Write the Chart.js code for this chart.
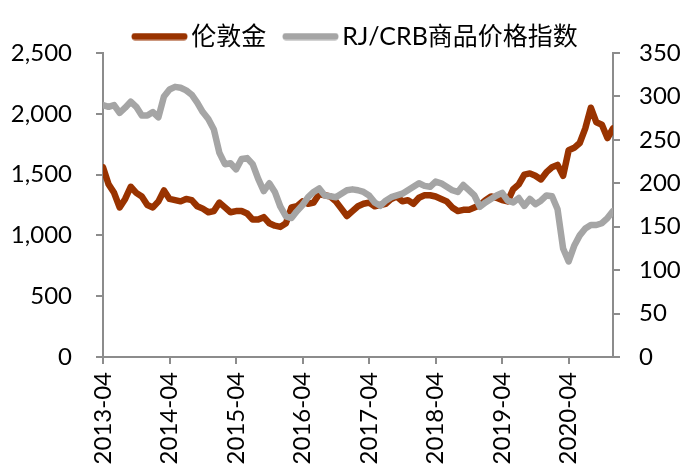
<!DOCTYPE html>
<html>
<head>
<meta charset="utf-8">
<script src="https://cdn.jsdelivr.net/npm/chart.js@4/dist/chart.umd.min.js"></script>
<style>
  html, body { margin: 0; padding: 0; background: #ffffff; }
  #wrap { width: 697px; height: 469px; }
</style>
</head>
<body>
<div id="wrap"><canvas id="c" width="697" height="469"></canvas></div>
<script>
// Monthly categories from 2013-04 to 2020-12
const startYear = 2013, startMonth = 4, monthCount = 93;
const months = [];
for (let i = 0; i < monthCount; i++) {
  const m = startMonth - 1 + i;
  const y = startYear + Math.floor(m / 12);
  const mm = (m % 12) + 1;
  months.push(y + '-' + String(mm).padStart(2, '0'));
}
const tickLabels = ['2013-04','2014-04','2015-04','2016-04','2017-04','2018-04','2019-04','2020-04'];

const seriesNames = ['伦敦金', 'RJ/CRB商品价格指数'];

// London gold (left axis)
const goldValues = [
  1560,1420,1350,1230,1300,1400,1350,1320,1250,1230,1280,1370,
  1300,1290,1280,1300,1290,1240,1220,1190,1200,1270,1230,1190,
  1200,1200,1180,1130,1130,1150,1100,1080,1070,1100,1230,1240,
  1280,1260,1270,1340,1330,1320,1280,1220,1160,1200,1240,1260,
  1270,1240,1250,1260,1300,1320,1280,1290,1260,1310,1330,1330,
  1320,1300,1280,1230,1200,1210,1210,1230,1250,1290,1320,1310,
  1290,1280,1380,1420,1500,1510,1490,1460,1520,1560,1580,1490,
  1700,1720,1760,1880,2050,1930,1910,1800,1880
];

// RJ/CRB commodity index (right axis)
const crbValues = [
  290,288,290,281,287,294,288,278,278,282,276,300,
  308,311,310,307,302,293,282,274,262,235,222,223,
  216,228,229,222,205,191,200,190,173,162,160,168,
  175,184,190,194,186,185,184,188,192,193,192,190,
  186,178,174,180,184,186,188,192,196,200,197,196,
  202,200,196,192,190,198,192,186,173,178,182,186,
  189,180,178,183,174,182,176,180,186,185,170,125,
  110,128,140,148,152,152,154,160,168
];

const goldColor = '#993300';
const crbColor = '#a5a5a5';
const axisColor = '#8c8c8c';
const fontFamily = "Lato, 'Noto Sans CJK SC', sans-serif";

const LAYOUT_TOP = 8;
const LEGEND_HEIGHT = 45;   // legend block; plot area starts at LAYOUT_TOP + LEGEND_HEIGHT
const LEGEND_PAD = 16;
const LEGEND_SHIFT = 6;

// legend sample: a short thick rounded line, drawn on a small canvas
function legendSwatch(color) {
  const c = document.createElement('canvas');
  c.width = 66; c.height = 8;
  const g = c.getContext('2d');
  g.strokeStyle = color;
  g.lineWidth = 7;
  g.lineCap = 'round';
  g.beginPath();
  g.moveTo(13, 4);
  g.lineTo(62, 4);
  g.stroke();
  return c;
}

const toPoints = arr => arr.map((v, i) => ({ x: i, y: v }));

const chart = new Chart(document.getElementById('c'), {
  type: 'line',
  data: {
    datasets: [
      {
        label: seriesNames[0],
        data: toPoints(goldValues),
        borderColor: goldColor,
        backgroundColor: goldColor,
        borderWidth: 6.5,
        pointRadius: 0,
        tension: 0,
        borderCapStyle: 'round',
        borderJoinStyle: 'round',
        order: 2,
        yAxisID: 'y'
      },
      {
        label: seriesNames[1],
        data: toPoints(crbValues),
        borderColor: crbColor,
        backgroundColor: crbColor,
        borderWidth: 6.5,
        pointRadius: 0,
        tension: 0,
        borderCapStyle: 'round',
        borderJoinStyle: 'round',
        order: 1,
        yAxisID: 'y2'
      }
    ]
  },
  options: {
    responsive: false,
    animation: false,
    events: [],
    layout: { padding: { top: LAYOUT_TOP, left: 0, right: 0, bottom: 0 } },
    plugins: {
      tooltip: { enabled: false },
      legend: {
        position: 'top',
        align: 'center',
        labels: {
          color: '#000',
          font: { family: fontFamily, size: 25 },
          usePointStyle: true,
          pointStyleWidth: 47.5,
          boxHeight: 8,
          padding: LEGEND_PAD,
          generateLabels: chart => chart.data.datasets.map((ds, i) => ({
            text: ds.label,
            fillStyle: ds.borderColor,
            strokeStyle: ds.borderColor,
            pointStyle: legendSwatch(ds.borderColor),
            lineWidth: 0,
            hidden: false,
            datasetIndex: i,
            fontColor: '#000'
          }))
        }
      }
    },
    scales: {
      x: {
        type: 'linear',
        min: 0,
        max: monthCount - 1,
        afterBuildTicks: scale => {
          scale.ticks = tickLabels.map(t => ({ value: months.indexOf(t) }));
        },
        afterFit: scale => { scale.height = 112; },
        ticks: {
          autoSkip: false,
          minRotation: 90,
          maxRotation: 90,
          padding: 8,
          color: '#000',
          font: { family: fontFamily, size: 24 },
          callback: v => months[v]
        },
        grid: { drawOnChartArea: false, drawTicks: true, tickLength: 7, color: axisColor, lineWidth: 2 },
        border: { display: true, color: axisColor, width: 2 }
      },
      y: {
        position: 'left',
        min: 0,
        max: 2500,
        afterFit: scale => { scale.width = 103; },
        ticks: {
          stepSize: 500,
          padding: 24,
          color: '#000',
          font: { family: fontFamily, size: 24 },
          callback: v => v.toLocaleString('en-US')
        },
        grid: { drawOnChartArea: false, drawTicks: true, tickLength: 7, color: axisColor, lineWidth: 2 },
        border: { display: true, color: axisColor, width: 2 }
      },
      y2: {
        position: 'right',
        min: 0,
        max: 350,
        afterFit: scale => { scale.width = 84; },
        ticks: {
          stepSize: 50,
          padding: 19,
          color: '#000',
          font: { family: fontFamily, size: 24 },
          callback: v => String(v)
        },
        grid: { drawOnChartArea: false, drawTicks: true, tickLength: 7, color: axisColor, lineWidth: 2 },
        border: { display: true, color: axisColor, width: 2 }
      }
    }
  }
});

// Fix the legend block height so the plot area starts where the reference's does,
// and nudge the legend horizontally as in the reference.
const legendFit = chart.legend.fit;
chart.legend.fit = function () {
  legendFit.call(this);
  this.height = LEGEND_HEIGHT;
};
const legendDraw = chart.legend.draw;
chart.legend.draw = function () {
  const ctx = this.ctx;
  ctx.save();
  ctx.translate(LEGEND_SHIFT, 0);
  legendDraw.call(this);
  ctx.restore();
};
chart.update();
</script>
</body>
</html>
